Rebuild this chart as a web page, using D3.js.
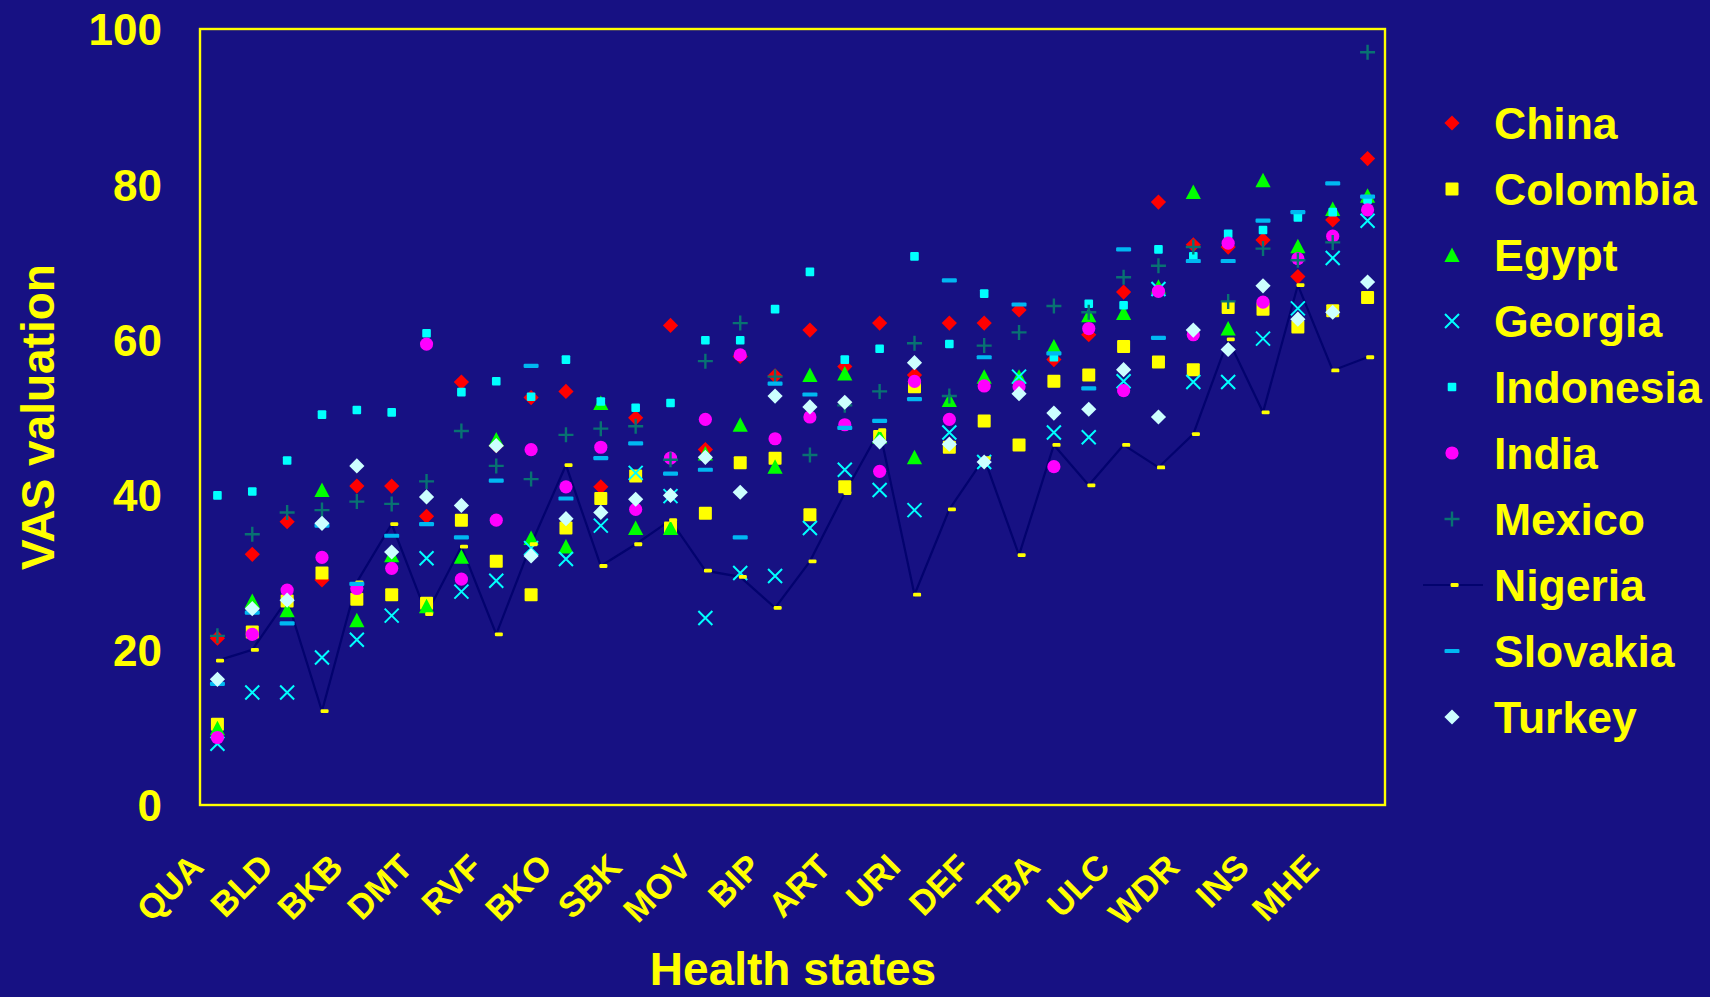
<!DOCTYPE html>
<html>
<head>
<meta charset="utf-8">
<script src="https://cdn.jsdelivr.net/npm/d3@7"></script>
<style>
  html, body { margin: 0; padding: 0; background: #171183; }
  svg { display: block; }
  text { font-family: "Liberation Sans", Arial, Helvetica, sans-serif; font-weight: bold; fill: #ffff00; }
</style>
</head>
<body>
<svg id="chart" width="1710" height="997"></svg>
<script>
// Health states along the x axis (every second state carries a label)
const healthStates = ["QUA","","BLD","","BKB","","DMT","","RVF","","BKO","","SBK","","MOV","",
  "BIP","","ART","","URI","","DEF","","TBA","","ULC","","WDR","","INS","","MHE",""];

const yTicks = [0, 20, 40, 60, 80, 100];

// VAS valuations per country, one value per health state
const china     = [21.5,32.3,36.5,29.0,41.1,41.1,37.2,54.5,46.3,52.5,53.3,41.0,49.9,61.8,45.8,57.8,55.3,61.2,56.5,62.1,55.4,62.1,62.1,63.8,57.4,60.6,66.1,77.7,72.2,71.9,72.8,68.1,75.4,83.3];
const colombia  = [10.4,22.3,26.3,29.9,26.5,27.1,26.0,36.7,31.4,27.1,35.7,39.5,42.4,35.7,37.6,44.1,44.7,37.4,41.0,47.5,53.9,46.1,49.5,46.4,54.6,55.4,59.1,57.1,56.1,64.1,63.9,61.6,63.7,65.4];
const egypt     = [9.9,26.3,25.1,40.6,23.8,32.2,25.6,32.0,47.1,34.4,33.3,51.8,35.7,35.7,45.3,49.0,43.6,55.4,55.6,47.5,44.8,52.2,55.2,55.2,59.1,63.1,63.4,66.8,79.0,61.4,80.5,72.0,76.8,78.5];
const georgia   = [7.9,14.5,14.5,19.0,21.3,24.4,31.8,27.5,28.9,33.1,31.7,36.0,42.8,39.8,24.1,29.9,29.5,35.7,43.2,40.6,38.0,48.0,44.2,55.2,48.0,47.4,54.6,66.5,54.5,54.5,60.1,64.0,70.5,75.3];
const indonesia = [39.9,40.4,44.4,50.3,50.9,50.6,60.8,53.2,54.6,52.6,57.4,52.0,51.2,51.8,59.9,59.9,63.9,68.7,57.4,58.8,70.7,59.4,65.9,53.9,57.7,64.6,64.4,71.6,70.7,73.6,74.1,75.7,76.4,78.0];
const india     = [8.7,22.0,27.7,31.9,27.9,30.5,59.4,29.1,36.7,45.8,41.0,46.1,38.1,44.7,49.7,58.0,47.2,50.0,49.0,43.0,54.6,49.7,54.0,53.9,43.6,61.4,53.4,66.2,60.6,72.4,64.8,70.4,73.3,76.7];
const mexico    = [21.8,34.9,37.7,38.0,39.1,38.8,41.7,48.2,43.7,42.0,47.7,48.5,48.8,44.5,57.2,62.1,55.2,45.1,51.5,53.3,59.5,52.7,59.2,60.9,64.3,63.5,68.0,69.5,71.9,64.9,71.7,70.2,72.5,97.0];
const nigeria   = [18.6,20.0,26.5,12.1,28.7,36.2,24.6,33.3,22.0,33.6,43.8,30.8,33.6,36.7,30.2,29.4,25.4,31.4,40.2,48.3,27.1,38.1,44.7,32.2,46.4,41.2,46.4,43.5,47.8,60.0,50.6,67.0,56.0,57.7];
const slovakia  = [15.6,24.8,23.4,36.0,28.5,34.7,36.2,34.5,41.8,56.6,39.5,44.7,46.6,42.7,43.2,34.5,54.3,52.9,48.6,49.5,52.3,67.6,57.7,64.5,58.2,53.7,71.6,60.2,70.1,70.1,75.3,76.4,80.1,78.4];
const turkey    = [16.2,25.3,26.4,36.3,43.7,32.6,39.7,38.6,46.3,32.1,36.9,37.7,39.4,39.9,44.8,40.3,52.7,51.3,51.9,46.8,57.0,46.5,44.2,53.0,50.5,51.0,56.1,50.0,61.2,58.7,66.9,62.6,63.5,67.4];

const countries = ["China","Colombia","Egypt","Georgia","Indonesia","India","Mexico","Nigeria","Slovakia","Turkey"];
const seriesValues = [china, colombia, egypt, georgia, indonesia, india, mexico, nigeria, slovakia, turkey];

// Marker look for each country
const markerStyle = {
  China:     { shape: "diamond",  color: "#ff0000" },
  Colombia:  { shape: "square",   color: "#ffff00", size: 13 },
  Egypt:     { shape: "triangle", color: "#00ff00" },
  Georgia:   { shape: "cross",    color: "#00ffff" },
  Indonesia: { shape: "square",   color: "#00ffff", size: 8.6 },
  India:     { shape: "circle",   color: "#ff00ff" },
  Mexico:    { shape: "plus",     color: "#087272" },
  Nigeria:   { shape: "dash",     color: "#ffff00", w: 8, h: 3.8, dx: 2.6 },
  Slovakia:  { shape: "dash",     color: "#00b8f2", w: 15, h: 4.2, dx: 0 },
  Turkey:    { shape: "diamond",  color: "#ccffff" }
};
const nigeriaLine = "#03036e";

const svg = d3.select("#chart");
const plot = { left: 200, right: 1385, top: 29, bottom: 805 };

const x = d3.scaleBand()
  .domain(d3.range(healthStates.length))
  .range([plot.left, plot.right])
  .padding(0);
const xc = i => x(i) + x.bandwidth() / 2;

const y = d3.scaleLinear().domain([0, 100]).range([plot.bottom, plot.top]);

function drawMarker(g, name) {
  const s = markerStyle[name];
  switch (s.shape) {
    case "diamond":
      g.append("path").attr("d", "M0,-7.6L7.6,0L0,7.6L-7.6,0Z").attr("fill", s.color);
      break;
    case "square":
      g.append("rect").attr("x", -s.size / 2).attr("y", -s.size / 2)
        .attr("width", s.size).attr("height", s.size).attr("rx", 1).attr("fill", s.color);
      break;
    case "triangle":
      g.append("path").attr("d", "M0,-7.5L7.6,7L-7.6,7Z").attr("fill", s.color);
      break;
    case "circle":
      g.append("circle").attr("r", 6.6).attr("fill", s.color);
      break;
    case "cross":
      g.append("path").attr("d", "M-7,-7L7,7M-7,7L7,-7")
        .attr("stroke", s.color).attr("stroke-width", 2).attr("fill", "none");
      break;
    case "plus":
      g.append("path").attr("d", "M-7.5,0H7.5M0,-7.5V7.5")
        .attr("stroke", s.color).attr("stroke-width", 2.4).attr("fill", "none");
      break;
    case "dash":
      g.append("rect").attr("x", s.dx - s.w / 2).attr("y", -s.h / 2)
        .attr("width", s.w).attr("height", s.h).attr("rx", 1.2).attr("fill", s.color);
      break;
  }
}

// Plot frame
svg.append("rect")
  .attr("x", plot.left).attr("y", plot.top)
  .attr("width", plot.right - plot.left).attr("height", plot.bottom - plot.top)
  .attr("fill", "none").attr("stroke", "#ffff00").attr("stroke-width", 2.4);

// Y axis labels
const yAxis = d3.axisLeft(y).tickValues(yTicks).tickSize(0).tickPadding(0);
svg.append("g")
  .attr("transform", `translate(${plot.left - 38},0)`)
  .call(yAxis)
  .call(g => g.select(".domain").remove())
  .call(g => g.selectAll("text")
    .attr("font-size", 44).attr("fill", "#ffff00")
    .attr("font-family", "Liberation Sans, Arial, sans-serif")
    .attr("font-weight", "bold")
    .attr("dy", "0.36em"));

// X axis labels, rotated
const xAxis = d3.axisBottom(x)
  .tickValues(d3.range(healthStates.length).filter(i => healthStates[i] !== ""))
  .tickFormat(i => healthStates[i])
  .tickSize(0).tickPadding(0);
svg.append("g")
  .attr("transform", `translate(0,${plot.bottom})`)
  .call(xAxis)
  .call(g => g.select(".domain").remove())
  .call(g => g.selectAll("text")
    .attr("font-size", 34.5).attr("fill", "#ffff00")
    .attr("font-family", "Liberation Sans, Arial, sans-serif")
    .attr("font-weight", "bold")
    .attr("text-anchor", "end")
    .attr("y", 0).attr("dy", 0)
    .attr("transform", "translate(-12,64) rotate(-45)"));

// Axis titles
svg.append("text")
  .attr("transform", `translate(54,${(plot.top + plot.bottom) / 2})`)
  .attr("text-anchor", "middle")
  .attr("font-size", 46)
  .attr("transform", `translate(54,${(plot.top + plot.bottom) / 2}) rotate(-90)`)
  .text("VAS valuation");

svg.append("text")
  .attr("x", 793).attr("y", 985)
  .attr("text-anchor", "middle")
  .attr("font-size", 46)
  .text("Health states");

// Nigeria connecting line sits under all markers
svg.append("path")
  .datum(nigeria)
  .attr("fill", "none")
  .attr("stroke", nigeriaLine)
  .attr("stroke-width", 2.2)
  .attr("d", d3.line().x((d, i) => xc(i)).y(d => y(d)));

// Markers, series by series
countries.forEach((name, k) => {
  const layer = svg.append("g").attr("class", "series");
  seriesValues[k].forEach((v, i) => {
    const g = layer.append("g").attr("transform", `translate(${xc(i)},${y(v)})`);
    drawMarker(g, name);
  });
});

// Legend
const legend = svg.append("g");
const legendTop = 123, legendStep = 66;
countries.forEach((name, k) => {
  const ly = legendTop + k * legendStep;
  if (name === "Nigeria") {
    legend.append("line")
      .attr("x1", 1423).attr("x2", 1483).attr("y1", ly).attr("y2", ly)
      .attr("stroke", nigeriaLine).attr("stroke-width", 2.2);
  }
  const g = legend.append("g").attr("transform", `translate(1452,${ly})`);
  drawMarker(g, name);
  legend.append("text")
    .attr("x", 1494).attr("y", ly + 16)
    .attr("font-size", 44.5)
    .text(name);
});
</script>
</body>
</html>
